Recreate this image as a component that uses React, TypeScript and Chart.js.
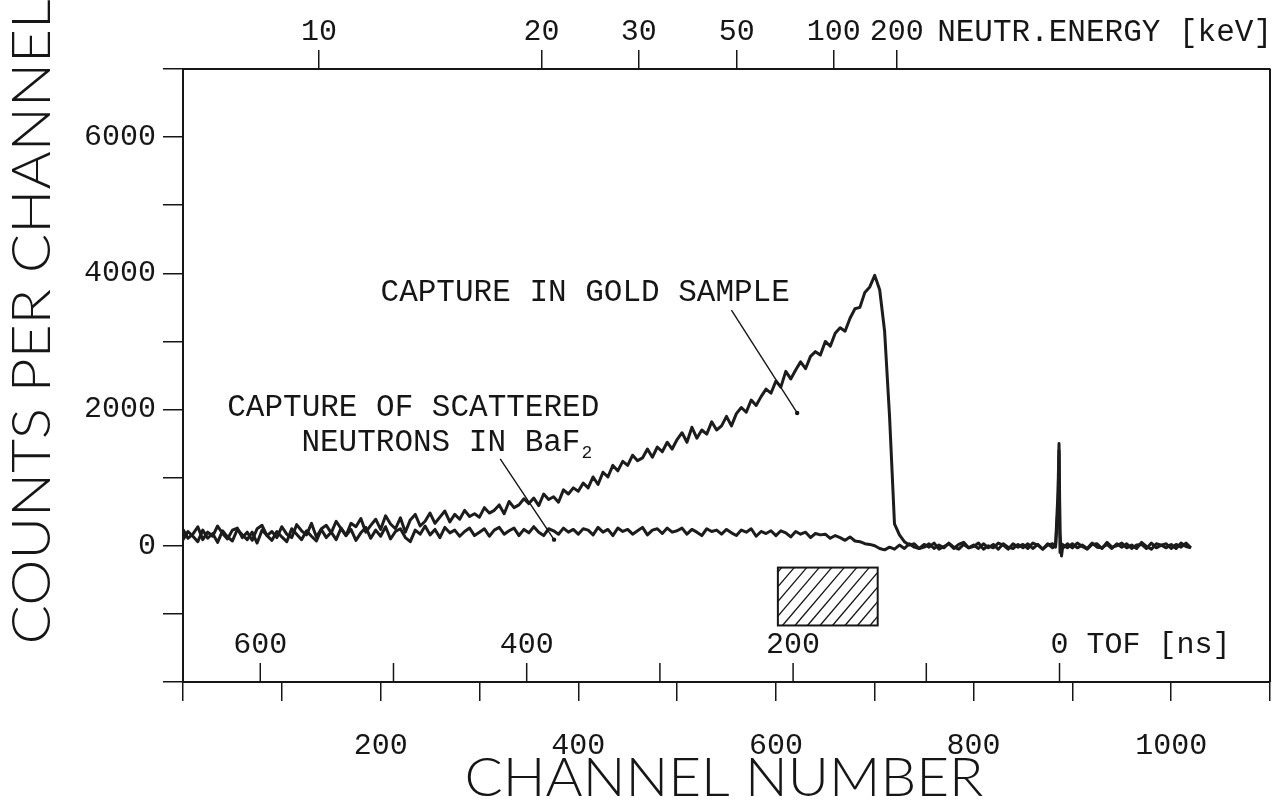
import React, { useEffect, useRef } from 'react';
import { Chart, registerables } from 'chart.js';

Chart.register(...registerables);

const INK = '#161616';
const MONO = '"Liberation Mono", "DejaVu Sans Mono", monospace';
const TITLE_FONT = 'Lato, "DejaVu Sans", sans-serif';

// ---- axes ----
const channelMin = 0;
const channelMax = 1100;
const channelTickStep = 100;
const channelLabels = [200, 400, 600, 800, 1000];

const countMin = -2000;
const countMax = 7000;
const countTickStep = 1000;
const countLabels = [0, 2000, 4000, 6000];

// neutron energy axis (top): tick labels and the channel each one sits at
const energyLabels = ['10', '20', '30', '50', '100', '200'];
const energyChannels = [137.6, 362.9, 461.1, 560.3, 658.5, 722.3];

// time-of-flight axis (inside, bottom)
const tofTicks = [600, 500, 400, 300, 200, 100, 0];
const tofLabels = ['600', '', '400', '', '200', '', '0'];
const tofZeroChannel = 887;
const channelsPerNs = 1.348;

// ---- spectra (one value every 5 channels, channel 0 … 1020) ----
const channelStep = 5;
const goldCounts = [
  240, 110, 170, 280, 90, 200, 140, 290, 180, 100,
  230, 260, 120, 200, 80, 250, 300, 150, 210, 120,
  280, 170, 120, 310, 220, 160, 330, 130, 250, 300,
  190, 360, 250, 150, 330, 280, 400, 200, 300, 390,
  240, 440, 320, 250, 410, 200, 380, 460, 290, 360,
  480, 330, 420, 510, 350, 460, 390, 520, 430, 470,
  420, 560, 480, 520, 600, 470, 650, 560, 600, 690,
  620, 700, 590, 760, 680, 720, 640, 820, 760, 850,
  800, 920, 850, 1010, 900, 1080, 1010, 1180, 1100, 1240,
  1180, 1330, 1250, 1290, 1420, 1300, 1450, 1380, 1520, 1420,
  1560, 1660, 1520, 1740, 1580, 1700, 1640, 1820, 1700, 1760,
  1900, 1760, 1940, 2030, 1960, 2140, 2060, 2190, 2300, 2240,
  2420, 2330, 2560, 2450, 2580, 2700, 2600, 2780, 2850, 2800,
  3000, 2930, 3120, 3200, 3150, 3340, 3480, 3500, 3720, 3800,
  3970, 3760, 3150, 1900, 320, 160, 60, 10, 30, -40,
  20, -20, 40, -50, -10, 30, -40, 20, 50, -30,
  -10, 40, -50, 0, -30, 40, 10, -50, 30, -20,
  20, -40, 40, 10, -50, 30, -30, 20, -40, 30,
  -30, 40, -10, -50, 20, 30, -40, 50, -20, 0,
  40, -30, 10, -40, 50, -10, -50, 30, 10, -30,
  20, -40, 40, -10, -30,
];
const baf2Counts = [
  90, 210, 140, 60, 230, 110, 180, 50, 220, 130,
  70, 240, 160, 90, 200, 40, 230, 150, 80, 210,
  130, 60, 250, 170, 90, 220, 140, 70, 240, 120,
  200, 90, 260, 150, 240, 80, 190, 270, 110, 230,
  140, 280, 100, 210, 250, 120, 60, 230, 170, 290,
  160, 240, 120, 270, 190, 230, 140, 210, 260, 150,
  200, 250, 140, 230, 270, 170, 220, 260, 150, 240,
  190, 280, 200, 150, 250, 220, 170, 260, 200, 240,
  170, 250, 230, 160, 270, 200, 240, 150, 260, 210,
  240, 170, 220, 270, 160, 230, 250, 180, 260, 200,
  220, 260, 170, 240, 200, 150, 250, 210, 230, 170,
  240, 190, 150, 230, 200, 250, 140, 210, 180, 220,
  150, 220, 190, 130, 210, 170, 200, 120, 180, 160,
  170, 110, 150, 120, 80, 130, 70, 60, 30, 20,
  0, -40, -60, -20, -50, 10, -40, 30, -20, -40,
  -20, 30, -40, 10, -30, 40, -20, -50, 20, -30,
  10, -40, 30, -30, 20, -50, 30, -20, -40, 20,
  -30, 30, -40, 20, -50, 10, 30, -40, 20, -30,
  30, -30, 10, -40, 40, -20, -30, 20, -40, 30,
  -20, 30, -40, 10, 20, -40, 40, -30, 10, 30,
  -40, 20, -20, 40, -30,
];
// narrow gamma-flash spike near TOF 0
const spikeChannels = [883, 885.5, 886.5, 887.5, 889];
const goldSpikeCounts = [0, 800, 1500, 200, -150];
const baf2SpikeCounts = [-20, 600, 1400, -100, 0];

// ---- annotations (data coordinates) ----
const hatchChannels = [602, 703];
const hatchCounts = [-320, -1170];
const goldPointerChannels = [555, 621.5];
const goldPointerCounts = [3460, 1950];
const baf2PointerChannels = [321, 375.5];
const baf2PointerCounts = [1275, 90];
const goldLabelAt = [407, 3707];
const baf2Line1At = [233, 2022];
const baf2Line2At = [261, 1509];

function buildPoints(counts: number[], spike: number[]) {
  const lo = spikeChannels[0];
  const hi = spikeChannels[spikeChannels.length - 1];
  const pts = counts
    .map((c, i) => ({ x: i * channelStep, y: c }))
    .filter((p) => p.x < lo || p.x > hi);
  spikeChannels.forEach((ch, i) => pts.push({ x: ch, y: spike[i] }));
  return pts.sort((a, b) => a.x - b.x);
}

function fitText(ctx: CanvasRenderingContext2D, text: string, cx: number, cy: number, width: number) {
  const w = ctx.measureText(text).width;
  ctx.save();
  ctx.translate(cx, cy);
  ctx.scale(width / w, 1);
  ctx.textAlign = 'center';
  ctx.textBaseline = 'middle';
  ctx.fillText(text, 0, 0);
  ctx.restore();
}

const decorPlugin = {
  id: 'decor',
  afterDraw(chart: any) {
    const { ctx, chartArea, scales } = chart;
    const x = scales.x;
    const y = scales.y;
    ctx.save();
    ctx.strokeStyle = INK;
    ctx.fillStyle = INK;

    // right frame
    ctx.lineWidth = 2;
    ctx.beginPath();
    ctx.moveTo(chartArea.right, chartArea.top);
    ctx.lineTo(chartArea.right, chartArea.bottom);
    ctx.stroke();

    // TOF ticks and labels
    ctx.lineWidth = 1.5;
    ctx.font = `30px ${MONO}`;
    ctx.textBaseline = 'middle';
    tofTicks.forEach((t, i) => {
      const px = x.getPixelForValue(tofZeroChannel - t * channelsPerNs);
      ctx.beginPath();
      ctx.moveTo(px, chartArea.bottom);
      ctx.lineTo(px, chartArea.bottom - 19);
      ctx.stroke();
      const lab = tofLabels[i];
      if (lab) {
        if (t === 0) {
          const w0 = ctx.measureText('0').width;
          ctx.textAlign = 'left';
          ctx.fillText('0 TOF [ns]', px - w0 / 2, chartArea.bottom - 37);
        } else {
          ctx.textAlign = 'center';
          ctx.fillText(lab, px, chartArea.bottom - 37);
        }
      }
    });

    // energy axis name
    ctx.font = `31px ${MONO}`;
    ctx.textAlign = 'right';
    ctx.textBaseline = 'middle';
    ctx.fillText('NEUTR.ENERGY [keV]', chartArea.right + 2, 33);

    // hatched box
    const bx0 = x.getPixelForValue(hatchChannels[0]);
    const bx1 = x.getPixelForValue(hatchChannels[1]);
    const by0 = y.getPixelForValue(hatchCounts[0]);
    const by1 = y.getPixelForValue(hatchCounts[1]);
    ctx.lineWidth = 2;
    ctx.strokeRect(bx0, by0, bx1 - bx0, by1 - by0);
    ctx.save();
    ctx.beginPath();
    ctx.rect(bx0, by0, bx1 - bx0, by1 - by0);
    ctx.clip();
    ctx.lineWidth = 1.3;
    const h = by1 - by0;
    for (let k = -h; k < bx1 - bx0 + h; k += 12.5) {
      ctx.beginPath();
      ctx.moveTo(bx0 + k, by1);
      ctx.lineTo(bx0 + k + h * 0.85, by0);
      ctx.stroke();
    }
    ctx.restore();

    // pointer lines
    const pointer = (chs: number[], cs: number[]) => {
      const p0x = x.getPixelForValue(chs[0]);
      const p0y = y.getPixelForValue(cs[0]);
      const p1x = x.getPixelForValue(chs[1]);
      const p1y = y.getPixelForValue(cs[1]);
      ctx.lineWidth = 1.4;
      ctx.beginPath();
      ctx.moveTo(p0x, p0y);
      ctx.lineTo(p1x, p1y);
      ctx.stroke();
      ctx.beginPath();
      ctx.arc(p1x, p1y, 2.2, 0, Math.PI * 2);
      ctx.fill();
    };
    pointer(goldPointerChannels, goldPointerCounts);
    pointer(baf2PointerChannels, baf2PointerCounts);

    // annotation text
    ctx.font = `31px ${MONO}`;
    ctx.textBaseline = 'middle';
    ctx.textAlign = 'center';
    ctx.fillText('CAPTURE IN GOLD SAMPLE', x.getPixelForValue(goldLabelAt[0]), y.getPixelForValue(goldLabelAt[1]));
    ctx.fillText('CAPTURE OF SCATTERED', x.getPixelForValue(baf2Line1At[0]), y.getPixelForValue(baf2Line1At[1]));
    const l2x = x.getPixelForValue(baf2Line2At[0]);
    const l2y = y.getPixelForValue(baf2Line2At[1]);
    const l2 = 'NEUTRONS IN BaF';
    const l2w = ctx.measureText(l2).width;
    ctx.fillText(l2, l2x, l2y);
    ctx.font = `18px ${MONO}`;
    ctx.textAlign = 'left';
    ctx.fillText('2', l2x + l2w / 2 + 1, l2y + 10);

    // axis titles
    ctx.font = `300 53px ${TITLE_FONT}`;
    fitText(ctx, 'CHANNEL NUMBER', 724, 779, 519);
    ctx.save();
    ctx.translate(33, 322);
    ctx.rotate(-Math.PI / 2);
    fitText(ctx, 'COUNTS PER CHANNEL', 0, 0, 645);
    ctx.restore();

    ctx.restore();
  },
};

export default function App() {
  const ref = useRef<HTMLCanvasElement | null>(null);

  useEffect(() => {
    if (!ref.current) return;
    const tickFont = { family: MONO, size: 30 };
    const gridStyle = (len: number) => ({
      drawOnChartArea: false,
      drawTicks: true,
      tickLength: len,
      color: INK,
      lineWidth: 1.5,
    });
    const border = { display: true, color: INK, width: 2 };
    const lineStyle = {
      borderColor: '#1c1c1c',
      borderWidth: 3,
      pointRadius: 0,
      tension: 0,
      fill: false,
      borderJoinStyle: 'round' as const,
    };
    const noPadX = (h: number) => (s: any) => {
      s.height = h;
      s.paddingLeft = 0;
      s.paddingRight = 0;
    };

    const chart = new Chart(ref.current, {
      type: 'line',
      data: {
        datasets: [
          { label: 'Capture of scattered neutrons in BaF2', data: buildPoints(baf2Counts, baf2SpikeCounts), ...lineStyle },
          { label: 'Capture in gold sample', data: buildPoints(goldCounts, goldSpikeCounts), ...lineStyle },
        ],
      },
      options: {
        animation: false,
        responsive: false,
        devicePixelRatio: 1,
        layout: { padding: { left: 0, top: 0, bottom: 0, right: 17 } },
        plugins: { legend: { display: false }, tooltip: { enabled: false } },
        scales: {
          x: {
            type: 'linear',
            position: 'bottom',
            min: channelMin,
            max: channelMax,
            afterFit: noPadX(121),
            ticks: {
              stepSize: channelTickStep,
              autoSkip: false,
              maxRotation: 0,
              minRotation: 0,
              padding: 27,
              color: INK,
              font: tickFont,
              callback: (v: any) => (channelLabels.includes(Number(v)) ? String(v) : ''),
            },
            grid: gridStyle(19),
            border,
          },
          x2: {
            type: 'linear',
            position: 'top',
            min: channelMin,
            max: channelMax,
            afterFit: noPadX(69),
            afterBuildTicks: (s: any) => { s.ticks = energyChannels.map((v) => ({ value: v })); },
            ticks: {
              autoSkip: false,
              maxRotation: 0,
              minRotation: 0,
              padding: 0,
              color: INK,
              font: tickFont,
              callback: (_v: any, i: number) => energyLabels[i] ?? '',
            },
            grid: gridStyle(19),
            border,
          },
          y: {
            type: 'linear',
            position: 'left',
            min: countMin,
            max: countMax,
            afterFit: (s: any) => {
              s.width = 183;
              s.paddingTop = 0;
              s.paddingBottom = 0;
            },
            ticks: {
              stepSize: countTickStep,
              padding: 7,
              color: INK,
              font: tickFont,
              callback: (v: any) => (countLabels.includes(Number(v)) ? String(v) : ''),
            },
            grid: gridStyle(20),
            border,
          },
        },
      },
      plugins: [decorPlugin],
    });
    return () => chart.destroy();
  }, []);

  return (
    <div style={{ position: 'absolute', left: 0, top: 0, width: 1287, height: 803, background: '#fff' }}>
      <canvas ref={ref} width={1287} height={803} />
    </div>
  );
}
